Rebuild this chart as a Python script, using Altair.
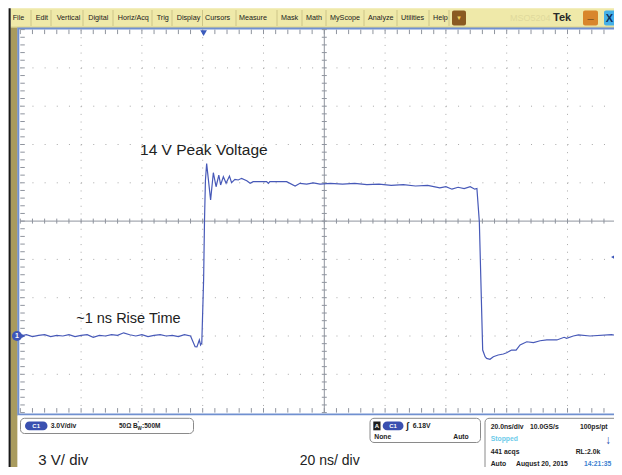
import altair as alt
import pandas as pd

# ---------------- values ----------------
# Channel-1 trace: time in ns from the left edge of the graticule, level in volts
wave_t = [0, 2, 4, 6, 8, 10, 12, 14, 16, 18, 20, 22, 24, 26, 28, 30, 32, 34, 36, 38,
          40, 42, 44, 46, 48, 50, 52, 54, 56,
          57.5, 58.1, 58.9, 59.3, 59.7, 60.3, 60.6, 60.9, 61.3,
          62.6, 63.5, 64.4, 65.3, 65.9, 66.8, 67.7, 68.8, 69.5, 70.6, 71.7, 72.8, 74.5, 75.6, 76.6,
          81.0, 81.6, 82.1, 87.6, 90.4, 92.0, 94.2, 96.4, 98.6,
          102, 106, 110, 114, 118, 122, 126, 130, 134, 138, 140, 142, 144, 146, 148, 149.5,
          150.2, 151.0, 152.1, 152.9, 153.4, 154.5, 155.6, 157.2, 158.9, 160.0, 161.6, 163.1,
          164.4, 166.6, 168.8, 171.0, 173.2, 176.5, 178.9, 179.7, 181.9, 183.6, 187.4, 194.5, 198]
wave_v = [0.0, 0.1, -0.05, 0.05, 0.1, -0.05, 0.05, 0.0, 0.1, -0.05, 0.05, 0.1, -0.1, 0.05, 0.0,
          0.1, 0.05, 0.25, 0.1, 0.0, 0.1, -0.05, 0.05, 0.1, 0.0, 0.05, -0.05, 0.1, 0.0,
          -0.84, -0.85, -0.31, -0.70, -0.55, 4.4, 9.1, 12.2, 13.5,
          10.65, 12.79, 11.69, 12.61, 11.83, 12.48, 11.96, 12.53, 12.01, 12.27, 12.22, 12.35, 12.16, 11.96, 12.09,
          12.09, 11.96, 12.09, 12.09, 11.75, 11.96, 11.9, 12.0, 11.9,
          11.95, 11.9, 11.95, 11.85, 11.9, 11.8, 11.85, 11.75, 11.8, 11.6, 11.7, 11.5, 11.65, 11.55, 11.7, 11.5,
          11.55, 8.95, -1.1, -1.62, -1.75, -1.82, -1.62, -1.49, -1.41, -1.31, -1.1, -1.1,
          -0.7, -0.45, -0.52, -0.37, -0.31, -0.31, -0.1, -0.18, 0.0, 0.08, 0.0, 0.1, 0.0]

ns_per_div = 20.0          # "20 ns/ div"
v_per_div = 3.0            # "3 V/ div"
n_div = 10
ground_offset_div = -3     # ground marker sits 3 divisions below centre
trig_level_v = 6.18        # "6.18V"
trig_pos_ns = 60.3         # trigger position marker

annot_text = ["14 V Peak Voltage", "~1 ns Rise Time"]
annot_t = [39.4, 18.4]
annot_v = [14.2, 1.0]

menu_labels = ["File", "Edit", "Vertical", "Digital", "Horiz/Acq", "Trig", "Display", "Cursors",
               "Measure", "Mask", "Math", "MyScope", "Analyze", "Utilities", "Help"]

# ---------------- layout (page pixels) ----------------
W, H = 606, 459
OX, OY = 8, 8
GX0, DX = 20.3, 60.8        # left graticule edge, px per division
GYC, DY = 221.1, 38.3       # graticule centre, px per division

menu_x = [12.7, 35.7, 56.7, 88.3, 117.7, 156.7, 176.7, 205, 239, 281, 306, 330, 368, 401, 433]
menu_sep_x = [31, 51, 83, 113, 152, 172, 202.5, 236, 277, 302, 326, 364, 397, 429, 449]

SANS = "Liberation Sans, Arial, sans-serif"
BLUE = "#4759b8"

x0c = GX0 - OX
px_per_ns = DX / ns_per_div
t_dom = [-x0c / px_per_ns, (W - x0c) / px_per_ns]
v_center = -ground_offset_div * v_per_div
ycc = GYC - OY
px_per_v = DY / v_per_div
v_dom = [v_center - (H - ycc) / px_per_v, v_center + ycc / px_per_v]
XS = alt.Scale(domain=t_dom, nice=False, zero=False)
YS = alt.Scale(domain=v_dom, nice=False, zero=False)

t_left, t_right = 0.0, n_div * ns_per_div
v_bot, v_top = v_center - n_div / 2 * v_per_div, v_center + n_div / 2 * v_per_div


def X(f):
    return alt.X(f, scale=XS, axis=None)


def Y(f):
    return alt.Y(f, scale=YS, axis=None)


def rects(rows, **mk):
    df = pd.DataFrame([{"x": a - OX, "x2": b - OX, "y": c - OY, "y2": d - OY, "f": f}
                       for a, b, c, d, f in rows])
    return alt.Chart(df).mark_rect(**mk).encode(
        x=alt.X("x:Q", scale=None), x2="x2:Q",
        y=alt.Y("y:Q", scale=None), y2="y2:Q",
        fill=alt.Fill("f:N", scale=None))


def prules(rows, **mk):
    df = pd.DataFrame([{"x": a - OX, "x2": b - OX, "y": c - OY, "y2": d - OY, "c": col}
                       for a, b, c, d, col in rows])
    return alt.Chart(df).mark_rule(**mk).encode(
        x=alt.X("x:Q", scale=None), x2="x2:Q",
        y=alt.Y("y:Q", scale=None), y2="y2:Q",
        color=alt.Color("c:N", scale=None))


def texts(rows, align="left", font=SANS, weight="bold", baseline="middle"):
    df = pd.DataFrame([{"x": x - OX, "y": y - OY, "text": s, "size": sz, "c": col}
                       for s, x, y, sz, col in rows])
    return alt.Chart(df).mark_text(align=align, baseline=baseline, font=font, fontWeight=weight).encode(
        x=alt.X("x:Q", scale=None), y=alt.Y("y:Q", scale=None), text="text:N",
        size=alt.Size("size:Q", scale=None), color=alt.Color("c:N", scale=None))


layers = []

# --- window chrome background ---
layers.append(rects([
    (10.7, 640, 8.3, 27.4, "#efe9a9"),     # menu bar
    (10.5, 17.6, 27.4, 480, "#a99b5e"),    # tan side strip
]))
layers.append(prules([(10.7, 640, 27.2, 27.2, "#cbc47f")], strokeWidth=1))
layers.append(prules([(x, x, 10, 26, "#cdc588") for x in menu_sep_x], strokeWidth=1))
layers.append(texts([(s, x, 17.6, 7.2, "#1a1a1a") for s, x in zip(menu_labels, menu_x)], weight="normal"))
layers.append(rects([(452, 466, 10.5, 25.5, "#8a5a22")], cornerRadius=2))
layers.append(rects([(583, 598, 10.5, 25.5, "#d8862c")], cornerRadius=2))
layers.append(rects([(604, 620, 10.5, 25.5, "#45b0e8")], cornerRadius=2))
layers.append(texts([("MSO5204", 510, 18, 9, "#e0d99c")], weight="normal"))
layers.append(texts([("Tek", 553, 17.5, 11, "#2a2a2a")]))
layers.append(texts([("▼", 459, 18, 6, "#f3cf5a"), ("_", 590.5, 15, 11, "#1a1a1a"),
                     ("X", 609.5, 18.5, 11, "#10305a")], align="center"))

# --- graticule border ---
layers.append(rects([(18.3, 640, 28.4, 414.4, "white")], stroke="#7090d0", strokeWidth=2))

# --- dotted division grid ---
grid_t = [k * ns_per_div for k in range(1, n_div) if k != n_div // 2]
grid_v = [v_bot + k * v_per_div for k in range(1, n_div) if k != n_div // 2]
layers.append(alt.Chart(pd.DataFrame({"t": grid_t, "y0": v_top, "y1": v_bot})).mark_rule(
    color="#a9a9a9", strokeWidth=1, strokeDash=[1, DY / 5 - 1]).encode(
    x=X("t:Q"), y=Y("y0:Q"), y2="y1:Q"))
layers.append(alt.Chart(pd.DataFrame({"v": grid_v, "x0": t_left, "x1": t_right})).mark_rule(
    color="#a9a9a9", strokeWidth=1, strokeDash=[1, DX / 5 - 1]).encode(
    y=Y("v:Q"), x=X("x0:Q"), x2="x1:Q"))

# --- centre crosshair ---
t_mid = (t_left + t_right) / 2
layers.append(alt.Chart(pd.DataFrame({"t": [t_mid], "y0": [v_top], "y1": [v_bot]})).mark_rule(
    color="#8f949e", strokeWidth=1).encode(x=X("t:Q"), y=Y("y0:Q"), y2="y1:Q"))
layers.append(alt.Chart(pd.DataFrame({"v": [v_center], "x0": [t_left], "x1": [t_right]})).mark_rule(
    color="#8f949e", strokeWidth=1).encode(y=Y("v:Q"), x=X("x0:Q"), x2="x1:Q"))

# --- minor ticks (every 0.2 div) ---
minor_t = [k * ns_per_div / 5 for k in range(0, n_div * 5 + 1)]
minor_v = [v_bot + k * v_per_div / 5 for k in range(0, n_div * 5 + 1)]
L = 4.5
vt = []
for t in minor_t:
    vt.append({"t": t, "y0": v_top, "y1": v_top - L / px_per_v})
    vt.append({"t": t, "y0": v_bot, "y1": v_bot + L / px_per_v})
    vt.append({"t": t, "y0": v_center - 2.5 / px_per_v, "y1": v_center + 2.5 / px_per_v})
layers.append(alt.Chart(pd.DataFrame(vt)).mark_rule(color="#8f949e", strokeWidth=1).encode(
    x=X("t:Q"), y=Y("y0:Q"), y2="y1:Q"))
ht = []
for v in minor_v:
    ht.append({"v": v, "x0": t_left, "x1": t_left + L / px_per_ns})
    ht.append({"v": v, "x0": t_mid - 2.5 / px_per_ns, "x1": t_mid + 2.5 / px_per_ns})
layers.append(alt.Chart(pd.DataFrame(ht)).mark_rule(color="#8f949e", strokeWidth=1).encode(
    y=Y("v:Q"), x=X("x0:Q"), x2="x1:Q"))

# --- waveform ---
layers.append(alt.Chart(pd.DataFrame({"t": wave_t, "v": wave_v})).mark_line(
    color=BLUE, strokeWidth=1.2).encode(x=X("t:Q"), y=Y("v:Q")))

# --- markers ---
layers.append(alt.Chart(pd.DataFrame({"t": [trig_pos_ns], "v": [v_top - 3.5 / px_per_v]})).mark_point(
    shape="triangle-down", filled=True, size=45, color="#3b5bbd", opacity=1).encode(x=X("t:Q"), y=Y("v:Q")))
layers.append(alt.Chart(pd.DataFrame({"t": [t_right - 14 / px_per_ns], "v": [trig_level_v]})).mark_point(
    shape="triangle-left", filled=True, size=55, color="#3b55b8", opacity=1).encode(x=X("t:Q"), y=Y("v:Q")))
layers.append(alt.Chart(pd.DataFrame({"t": [t_left + 3 / px_per_ns], "v": [0.0]})).mark_point(
    shape="triangle-right", filled=True, size=22, color="#3f56b8", opacity=1).encode(x=X("t:Q"), y=Y("v:Q")))
layers.append(alt.Chart(pd.DataFrame({"t": [t_left - 3.3 / px_per_ns], "v": [0.0]})).mark_circle(
    size=100, color="#3f56b8", opacity=1).encode(x=X("t:Q"), y=Y("v:Q")))
layers.append(alt.Chart(pd.DataFrame({"t": [t_left - 3.3 / px_per_ns], "v": [0.0], "s": ["1"]})).mark_text(
    color="white", fontSize=7, fontWeight="bold", font=SANS, baseline="middle", align="center").encode(
    x=X("t:Q"), y=Y("v:Q"), text="s:N"))

# --- annotations ---
layers.append(alt.Chart(pd.DataFrame({"t": annot_t, "v": annot_v, "s": annot_text,
                                      "fs": [15.5, 14.5]})).mark_text(
    align="left", baseline="alphabetic", font=SANS, color="#222222").encode(
    x=X("t:Q"), y=Y("v:Q"), text="s:N", size=alt.Size("fs:Q", scale=None)))

# --- status area ---
layers.append(rects([(17.6, 640, 415.5, 480, "white")]))
layers.append(rects([(20.5, 193.5, 418.3, 433.5, "white"), (370, 480.5, 418.3, 442.5, "white"),
                     (485, 660, 418.3, 490, "white")],
                    stroke="#8a8a8a", strokeWidth=1, cornerRadius=4))
layers.append(rects([(25, 47.5, 421.5, 430.3, "#3a50b0"), (382.7, 403.5, 421.5, 430.3, "#3a50b0")],
                    cornerRadius=4.4))
layers.append(rects([(373.3, 380.5, 421.5, 430.3, "#1c1c1c")]))
layers.append(texts([("C1", 36.2, 426, 6, "#ffffff"), ("C1", 393.1, 426, 6, "#ffffff"),
                     ("A", 376.9, 426, 6, "#ffffff"), ("↓", 608, 440, 12, "#2c4fb0")], align="center"))
layers.append(texts([
    ("3.0V/div", 50.7, 426, 6.8, "#1e1e1e"),
    ("50Ω", 119, 426, 6.5, "#1e1e1e"),
    ("B", 133, 426, 6.5, "#1e1e1e"),
    ("W", 137.4, 428.6, 4.5, "#1e1e1e"),
    ("'", 137.8, 422.6, 5, "#1e1e1e"),
    (":500M", 142, 426, 6.5, "#1e1e1e"),
    ("ʃ", 406, 426, 9, "#1e1e1e"),
    ("6.18V", 412.7, 426, 6.8, "#1e1e1e"),
    ("None", 374.3, 437.3, 6.8, "#1e1e1e"),
    ("Auto", 453.3, 437.3, 6.8, "#1e1e1e"),
    ("20.0ns/div", 490.7, 426.7, 6.8, "#1e1e1e"),
    ("10.0GS/s", 530, 426.7, 6.8, "#1e1e1e"),
    ("100ps/pt", 580, 426.7, 6.8, "#1e1e1e"),
    ("Stopped", 490.7, 439.3, 6.8, "#6ccbea"),
    ("441 acqs", 490.7, 451.7, 6.8, "#1e1e1e"),
    ("RL:2.0k", 575.7, 451.7, 6.8, "#1e1e1e"),
    ("Auto", 490.7, 463.5, 6.8, "#1e1e1e"),
    ("August 20, 2015", 516, 463.5, 6.8, "#1e1e1e"),
    ("14:21:35", 584, 463.5, 6.8, "#3d7fd0"),
]))
layers.append(texts([("3 V/ div", 38.3, 465, 15, "#222222"), ("20 ns/ div", 299.8, 465, 14, "#222222")],
                    weight="normal", baseline="alphabetic"))

# --- dark window edge ---
layers.append(rects([(8.6, 10.7, 8.3, 480, "#1a1a1a")]))

chart = alt.layer(*layers).resolve_scale(x="independent", y="independent").properties(
    width=W, height=H, padding=0, autosize=alt.AutoSizeParams(type="none"), background="white"
).configure_view(stroke=None)

chart.save("out.html", embed_options={"renderer": "svg", "actions": False})
